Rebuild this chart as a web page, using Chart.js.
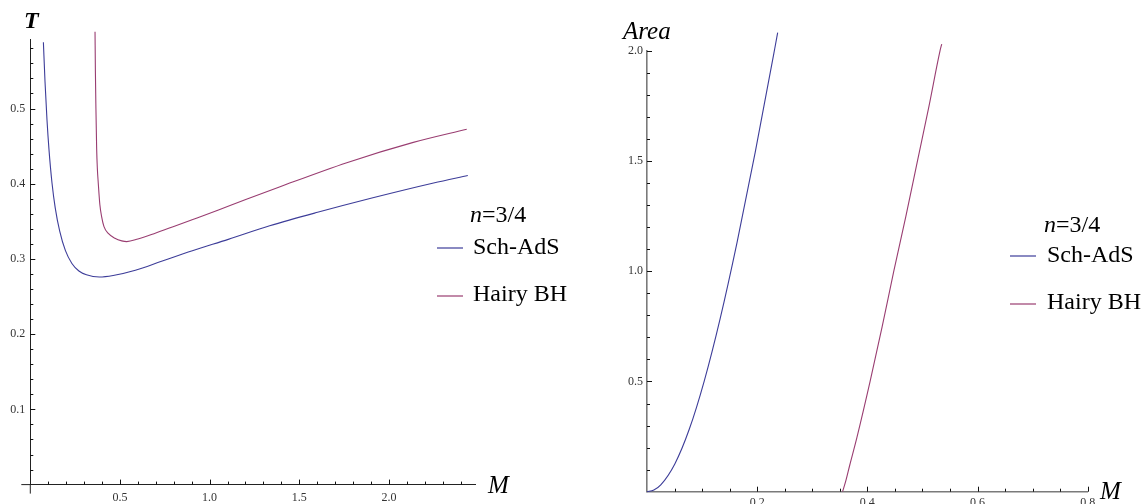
<!DOCTYPE html>
<html>
<head>
<meta charset="utf-8">
<script src="https://cdn.jsdelivr.net/npm/chart.js@4"></script>
<style>
  html, body { margin: 0; padding: 0; background: #fff; }
  #wrap { position: relative; width: 1145px; height: 504px; overflow: hidden; }
  .box { position: absolute; top: 0; height: 504px; }
</style>
</head>
<body>
<div id="wrap">
  <div class="box" style="left:0;width:580px"><canvas id="tChart"></canvas></div>
  <div class="box" style="left:580px;width:565px"><canvas id="aChart"></canvas></div>
</div>
<script>
// series
var seriesNames = ['Sch-AdS', 'Hairy BH'];
var seriesColors = ['#3d3d99', '#993d71'];

// left panel: T against M
var tSchM = [0.073, 0.082, 0.093, 0.104, 0.121, 0.139, 0.164, 0.196, 0.232, 0.271, 0.313, 0.385, 0.462, 0.586, 0.732, 0.904, 1.104, 1.335, 1.602, 1.905, 2.249, 2.44];
var tSchT = [0.588, 0.536, 0.485, 0.446, 0.401, 0.368, 0.337, 0.311, 0.294, 0.284, 0.279, 0.276, 0.278, 0.285, 0.297, 0.311, 0.326, 0.344, 0.362, 0.381, 0.401, 0.411];
var tHairyM = [0.361, 0.363, 0.366, 0.370, 0.374, 0.379, 0.388, 0.398, 0.411, 0.435, 0.472, 0.510, 0.538, 0.60, 0.70, 0.80, 0.93, 1.114, 1.393, 1.765, 2.136, 2.434];
var tHairyT = [0.602, 0.55, 0.50, 0.447, 0.42, 0.401, 0.372, 0.356, 0.343, 0.334, 0.3275, 0.324, 0.323, 0.3265, 0.3345, 0.343, 0.3545, 0.371, 0.396, 0.428, 0.455, 0.4725];

// right panel: Area against M
var aSchM = [0, 0.0125, 0.025, 0.0505, 0.0767, 0.104, 0.1328, 0.1635, 0.1964, 0.232, 0.2372];
var aSchArea = [0, 0.008, 0.031, 0.126, 0.283, 0.503, 0.785, 1.131, 1.539, 2.011, 2.082];
var aHairyM = [0.355, 0.361, 0.368, 0.381, 0.405, 0.427, 0.448, 0.470, 0.491, 0.512, 0.532, 0.535];
var aHairyArea = [0, 0.05, 0.12, 0.245, 0.5, 0.75, 1.0, 1.25, 1.5, 1.75, 2.0, 2.03];

// tick labels
var tXTicks = [0.5, 1.0, 1.5, 2.0];
var tYTicks = [0.1, 0.2, 0.3, 0.4, 0.5];
var aXTicks = [0.2, 0.4, 0.6, 0.8];
var aYTicks = [0.5, 1.0, 1.5, 2.0];

var serif = '"Liberation Serif", "Times New Roman", serif';

function pairs(xs, ys) {
    return xs.map(function(x, i) { return {x: x, y: ys[i]}; });
}

function isMajor(v, list) {
    return list.some(function(m) { return Math.abs(m - v) < 1e-6; });
}

// inward ticks, axis overhang, legend and axis titles
var axisDecor = {
    id: 'axisDecor',
    afterDraw: function(chart, args, o) {
        var ctx = chart.ctx, xs = chart.scales.x, ys = chart.scales.y, a = chart.chartArea;
        ctx.save();
        ctx.strokeStyle = o.axisColor;
        ctx.lineWidth = o.axisWidth;
        if (o.overhang) {
            ctx.beginPath();
            ctx.moveTo(a.left - o.overhang, a.bottom);
            ctx.lineTo(a.left, a.bottom);
            ctx.moveTo(a.left, a.bottom);
            ctx.lineTo(a.left, a.bottom + o.overhang);
            ctx.stroke();
        }
        ctx.strokeStyle = '#111';
        ctx.lineWidth = 1;
        var n = Math.floor(xs.max / o.xMinor + 1e-6);
        for (var i = 1; i <= n; i++) {
            var v = i * o.xMinor;
            var px = Math.round(xs.getPixelForValue(v)) + 0.5;
            var len = isMajor(v, o.xMajor) ? 5 : 3;
            ctx.beginPath();
            ctx.moveTo(px, a.bottom);
            ctx.lineTo(px, a.bottom - len);
            ctx.stroke();
        }
        n = Math.floor(ys.max / o.yMinor + 1e-6);
        for (var j = 1; j <= n; j++) {
            var w = j * o.yMinor;
            var py = Math.round(ys.getPixelForValue(w)) + 0.5;
            var l2 = isMajor(w, o.yMajor) ? 5 : 3;
            ctx.beginPath();
            ctx.moveTo(a.left, py);
            ctx.lineTo(a.left + l2, py);
            ctx.stroke();
        }

        // legend
        var L = o.legend;
        ctx.fillStyle = '#000';
        ctx.textBaseline = 'alphabetic';
        ctx.textAlign = 'left';
        ctx.font = 'italic 24px ' + serif;
        ctx.fillText('n', L.x, L.nY);
        var nw = ctx.measureText('n').width;
        ctx.font = '24px ' + serif;
        ctx.fillText('=3/4', L.x + nw, L.nY);
        for (var k = 0; k < seriesNames.length; k++) {
            ctx.strokeStyle = seriesColors[k];
            ctx.lineWidth = 1.2;
            ctx.beginPath();
            ctx.moveTo(L.lineX1, L.lineY[k]);
            ctx.lineTo(L.lineX2, L.lineY[k]);
            ctx.stroke();
            ctx.fillText(seriesNames[k], L.textX, L.textY[k]);
        }

        // axis titles
        o.titles.forEach(function(t) {
            ctx.font = t.font + ' ' + serif;
            ctx.fillText(t.text, t.x, t.y);
        });
        ctx.restore();
    }
};

function scaleOpts(min, max, ticks, size, isX, pad, border) {
    var s = {
        type: 'linear',
        min: min,
        max: max,
        grid: { display: false, drawTicks: false },
        border: { display: true, color: border.color, width: border.width },
        afterBuildTicks: function(scale) {
            scale.ticks = ticks.map(function(v) { return {value: v}; });
        },
        afterFit: function(scale) {
            if (isX) scale.height = size; else scale.width = size;
        },
        ticks: {
            padding: pad,
            color: '#333',
            font: { family: serif, size: 12 },
            maxRotation: 0,
            autoSkip: false,
            callback: function(v) { return Number(v).toFixed(1); }
        }
    };
    return s;
}

function lineSet(label, pts, color) {
    return {
        label: label,
        data: pts,
        showLine: true,
        borderColor: color,
        backgroundColor: color,
        borderWidth: 1.1,
        pointRadius: 0,
        cubicInterpolationMode: 'monotone',
        clip: false
    };
}

var leftBorder = {color: '#222', width: 1};
new Chart(document.getElementById('tChart'), {
    type: 'scatter',
    data: {
        datasets: [
            lineSet(seriesNames[0], pairs(tSchM, tSchT), seriesColors[0]),
            lineSet(seriesNames[1], pairs(tHairyM, tHairyT), seriesColors[1])
        ]
    },
    options: {
        responsive: true,
        maintainAspectRatio: false,
        animation: false,
        layout: { padding: { left: 0, top: 39.3, right: 104.3, bottom: 0 } },
        scales: {
            x: scaleOpts(0, 2.484, tXTicks, 19.4, true, 6, leftBorder),
            y: scaleOpts(0, 0.592, tYTicks, 30.3, false, 5, leftBorder)
        },
        plugins: {
            legend: { display: false },
            tooltip: { enabled: false },
            axisDecor: {
                axisColor: '#222', axisWidth: 1, overhang: 9,
                xMinor: 0.1, xMajor: tXTicks, yMinor: 0.02, yMajor: tYTicks,
                legend: { x: 470, nY: 222, textX: 473, textY: [254, 301], lineX1: 437, lineX2: 463, lineY: [248, 296] },
                titles: [
                    { text: 'T', font: 'italic bold 24px', x: 24, y: 28 },
                    { text: 'M', font: 'italic 25px', x: 488, y: 493 }
                ]
            }
        }
    },
    plugins: [axisDecor]
});

var rightBorder = {color: '#7a7a7a', width: 1.6};
new Chart(document.getElementById('aChart'), {
    type: 'scatter',
    data: {
        datasets: [
            lineSet(seriesNames[0], pairs(aSchM, aSchArea), seriesColors[0]),
            lineSet(seriesNames[1], pairs(aHairyM, aHairyArea), seriesColors[1])
        ]
    },
    options: {
        responsive: true,
        maintainAspectRatio: false,
        animation: false,
        layout: { padding: { left: 0, top: 50.7, right: 57.3, bottom: 0 } },
        scales: {
            x: scaleOpts(0, 0.8, aXTicks, 12.3, true, 3.5, rightBorder),
            y: scaleOpts(0, 2.0, aYTicks, 67, false, 4, rightBorder)
        },
        plugins: {
            legend: { display: false },
            tooltip: { enabled: false },
            axisDecor: {
                axisColor: '#7a7a7a', axisWidth: 1.6, overhang: 0,
                xMinor: 0.05, xMajor: aXTicks, yMinor: 0.1, yMajor: aYTicks,
                legend: { x: 464, nY: 232, textX: 467, textY: [262, 309], lineX1: 430, lineX2: 456, lineY: [256, 304] },
                titles: [
                    { text: 'Area', font: 'italic 25px', x: 43, y: 39 },
                    { text: 'M', font: 'italic 25px', x: 520, y: 499 }
                ]
            }
        }
    },
    plugins: [axisDecor]
});
</script>
</body>
</html>
